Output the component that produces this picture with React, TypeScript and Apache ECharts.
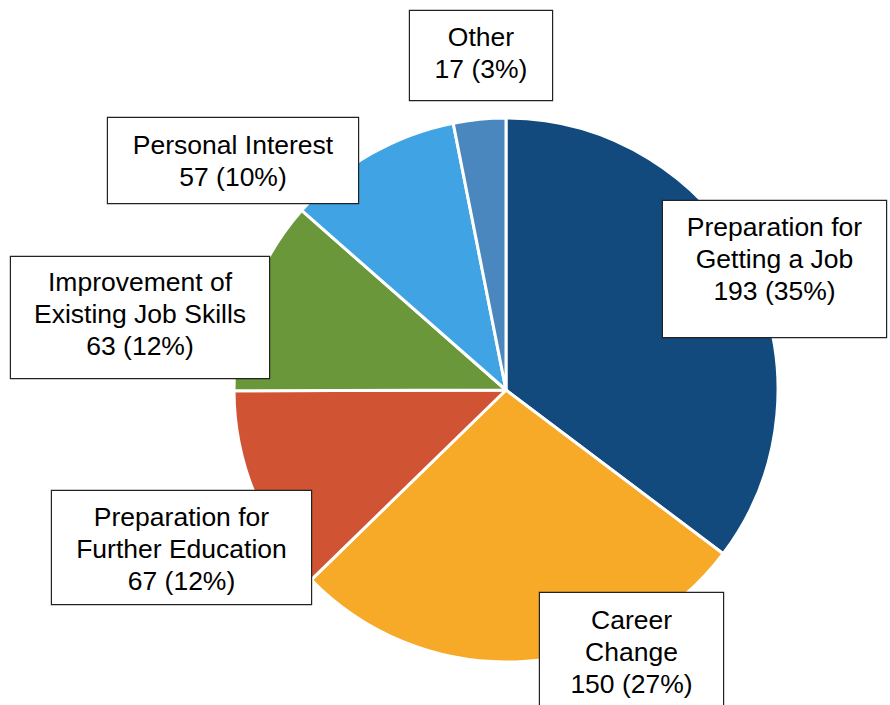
import React, { useEffect, useRef } from "react";
import * as echarts from "echarts";

const categories = [
  "Preparation for\nGetting a Job",
  "Career\nChange",
  "Preparation for\nFurther Education",
  "Improvement of\nExisting Job Skills",
  "Personal Interest",
  "Other",
];
const values = [193, 150, 67, 63, 57, 17];
const colors = ["#124A7E", "#F6AA28", "#D05434", "#6A9739", "#40A3E3", "#4A87BE"];

// label boxes: left, top, width, height, top padding
const boxes = [
  [663, 201, 223, 136, 10],
  [540, 593, 183, 130, 11],
  [52, 491, 259, 113, 10],
  [11, 257, 258, 121, 9],
  [108, 118, 250, 85, 11],
  [410, 11, 142, 89, 10],
];

export default function App() {
  const ref = useRef<HTMLDivElement>(null);
  useEffect(() => {
    if (!ref.current) return;
    const chart = echarts.init(ref.current, undefined, { renderer: "svg" });
    const total = values.reduce((a, b) => a + b, 0);
    const data = categories.map((name, i) => {
      const b = boxes[i];
      return {
        name,
        value: values[i],
        itemStyle: { color: colors[i] },
        label: {
          width: b[2],
          height: b[3] - b[4],
          padding: [b[4], 0, 0, 0],
        },
      };
    });
    chart.setOption({
      animation: false,
      series: [
        {
          type: "pie",
          center: [506, 390],
          radius: 272,
          startAngle: 90,
          clockwise: true,
          data,
          itemStyle: { borderColor: "#ffffff", borderWidth: 3 },
          labelLine: { show: false },
          label: {
            show: true,
            position: "outside",
            color: "#000000",
            fontFamily: "Liberation Sans, Arial, sans-serif",
            fontSize: 26.5,
            lineHeight: 32,
            align: "center",
            backgroundColor: "#ffffff",
            borderColor: "#222222",
            borderWidth: 1.2,
            formatter: (p: any) =>
              `${p.name}\n${p.value} (${Math.round((p.value / total) * 100)}%)`,
          },
          labelLayout: (p: any) => {
            const b = boxes[p.dataIndex];
            return { x: b[0] + b[2] / 2, y: b[1], align: "center", verticalAlign: "top" };
          },
          emphasis: { disabled: true },
        },
      ],
    });
    return () => chart.dispose();
  }, []);
  return (
    <div
      ref={ref}
      style={{ position: "absolute", left: 0, top: 0, width: 890, height: 705, background: "#fff" }}
    />
  );
}
